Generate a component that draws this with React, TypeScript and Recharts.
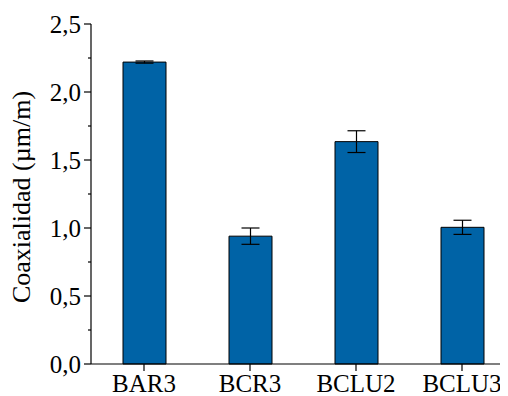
import { BarChart, Bar, XAxis, YAxis, ErrorBar } from 'recharts'

const samples = ['BAR3', 'BCR3', 'BCLU2', 'BCLU3']
const coaxiality = [2.22, 0.94, 1.635, 1.005]
const deviation = [0.008, 0.06, 0.08, 0.052]
const yTicks = [0, 0.25, 0.5, 0.75, 1, 1.25, 1.5, 1.75, 2, 2.25, 2.5]

const data = samples.map((name, i) => ({ name, value: coaxiality[i], err: deviation[i] }))

const FONT = '"Liberation Serif", serif'
const AXIS_X = 83

function YTick(props: any) {
  const { y, payload } = props
  const v = payload.value as number
  const major = Math.abs(v * 2 - Math.round(v * 2)) < 1e-6
  return (
    <g>
      <line x1={AXIS_X - (major ? 7 : 3)} x2={AXIS_X} y1={y} y2={y} stroke="#000" strokeWidth={1.2} />
      {major && (
        <text x={AXIS_X - 10} y={y} dy="0.34em" textAnchor="end" fontSize={25} fontFamily={FONT} fill="#000">
          {v.toFixed(1).replace('.', ',')}
        </text>
      )}
    </g>
  )
}

export default function App() {
  return (
    <div style={{ width: 500, height: 388, overflow: 'hidden' }}>
      <BarChart width={507} height={388} data={data} margin={{ top: 16, right: 0, bottom: 0, left: 0 }}>
        <XAxis
          dataKey="name"
          stroke="#000"
          strokeWidth={1.2}
          tickSize={7}
          tickMargin={3}
          height={32}
          tick={{ fontSize: 25, fontFamily: FONT, fill: '#000' }}
        />
        <YAxis
          width={AXIS_X}
          domain={[0, 2.5]}
          ticks={yTicks}
          interval={0}
          stroke="#000"
          strokeWidth={1.2}
          tickLine={false}
          tick={<YTick />}
          label={{
            content: () => (
              <text
                x={13}
                y={189}
                transform="rotate(-90 13 189)"
                textAnchor="middle"
                dominantBaseline="central"
                fontSize={26}
                fontFamily={FONT}
                fill="#000"
              >
                Coaxialidad (µm/m)
              </text>
            ),
          }}
        />
        <Bar dataKey="value" fill="#0063A6" stroke="#000" strokeWidth={1} barSize={43} isAnimationActive={false}>
          <ErrorBar dataKey="err" width={9} stroke="#000" strokeWidth={1.2} isAnimationActive={false} />
        </Bar>
      </BarChart>
    </div>
  )
}
